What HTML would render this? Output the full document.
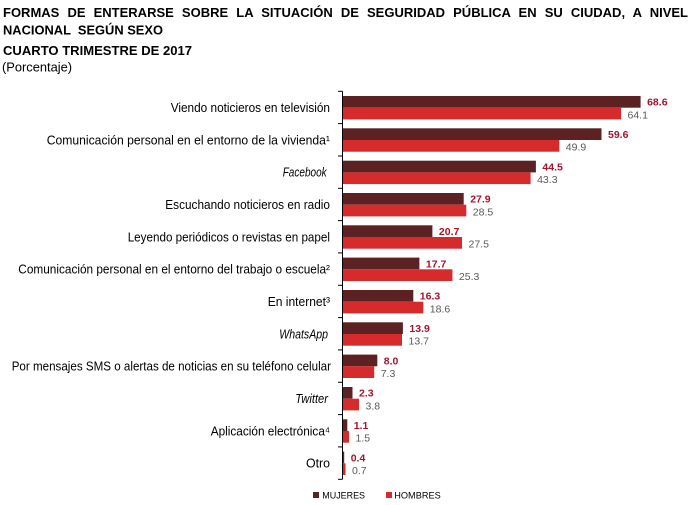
<!DOCTYPE html>
<html>
<head>
<meta charset="utf-8">
<style>
html,body{margin:0;padding:0;background:#fff;}
body{width:698px;height:505px;position:relative;overflow:hidden;font-family:"Liberation Sans",Arial,sans-serif;}
#t1{position:absolute;left:3px;top:5px;width:685px;font-weight:bold;font-size:13px;line-height:15px;text-align:justify;text-align-last:justify;color:#000;white-space:nowrap;}
svg{position:absolute;left:0;top:0;}
</style>
</head>
<body>
<div id="t1">FORMAS DE ENTERARSE SOBRE LA SITUACIÓN DE SEGURIDAD PÚBLICA EN SU CIUDAD, A NIVEL</div>
<svg width="698" height="505" viewBox="0 0 698 505" xmlns="http://www.w3.org/2000/svg" font-family="Liberation Sans, Arial, sans-serif">
  <text x="3" y="34.5" font-size="13" font-weight="bold" fill="#000" textLength="160" lengthAdjust="spacingAndGlyphs" style="white-space:pre">NACIONAL  SEGÚN SEXO</text>
  <text x="3" y="55" font-size="13" font-weight="bold" fill="#000" textLength="189" lengthAdjust="spacingAndGlyphs">CUARTO TRIMESTRE DE 2017</text>
  <text x="2" y="71.5" font-size="13" fill="#000" textLength="70" lengthAdjust="spacingAndGlyphs">(Porcentaje)</text>

  <!-- category labels -->
  <g font-size="12.5" fill="#000">
    <text x="170.7" y="112.0" textLength="159.3" lengthAdjust="spacingAndGlyphs">Viendo noticieros en televisión</text>
    <text x="46.7" y="144.3" textLength="283.3" lengthAdjust="spacingAndGlyphs">Comunicación personal en el entorno de la vivienda¹</text>
    <text x="282.7" y="176.7" textLength="44" lengthAdjust="spacingAndGlyphs" font-style="italic">Facebook</text>
    <text x="165.3" y="209.0" textLength="164.7" lengthAdjust="spacingAndGlyphs">Escuchando noticieros en radio</text>
    <text x="127.7" y="241.3" textLength="202.3" lengthAdjust="spacingAndGlyphs">Leyendo periódicos o revistas en papel</text>
    <text x="18.3" y="273.6" textLength="311.7" lengthAdjust="spacingAndGlyphs">Comunicación personal en el entorno del trabajo o escuela²</text>
    <text x="267.7" y="306.0" textLength="62.3" lengthAdjust="spacingAndGlyphs">En internet³</text>
    <text x="279.3" y="338.3" textLength="48.7" lengthAdjust="spacingAndGlyphs" font-style="italic">WhatsApp</text>
    <text x="11.7" y="370.6" textLength="319.3" lengthAdjust="spacingAndGlyphs">Por mensajes SMS o alertas de noticias en su teléfono celular</text>
    <text x="295.3" y="403.0" textLength="32.7" lengthAdjust="spacingAndGlyphs" font-style="italic">Twitter</text>
    <text x="210.7" y="435.3" textLength="119.3" lengthAdjust="spacingAndGlyphs">Aplicación electrónica⁴</text>
    <text x="306" y="467.6" textLength="24" lengthAdjust="spacingAndGlyphs">Otro</text>
  </g>

  <!-- bars mujeres -->
  <g fill="#5c2223">
    <rect x="342.5" y="96.0" width="298.1" height="11.7"/>
    <rect x="342.5" y="128.3" width="259.0" height="11.7"/>
    <rect x="342.5" y="160.7" width="193.4" height="11.7"/>
    <rect x="342.5" y="193.0" width="121.2" height="11.7"/>
    <rect x="342.5" y="225.3" width="89.9" height="11.7"/>
    <rect x="342.5" y="257.6" width="76.9" height="11.7"/>
    <rect x="342.5" y="290.0" width="70.8" height="11.7"/>
    <rect x="342.5" y="322.3" width="60.4" height="11.7"/>
    <rect x="342.5" y="354.6" width="34.8" height="11.7"/>
    <rect x="342.5" y="387.0" width="10.0" height="11.7"/>
    <rect x="342.5" y="419.3" width="4.8" height="11.7"/>
    <rect x="342.5" y="451.6" width="1.7" height="11.7"/>
  </g>
  <!-- bars hombres -->
  <g fill="#d52b2d">
    <rect x="342.5" y="107.7" width="278.5" height="11.7"/>
    <rect x="342.5" y="140.0" width="216.8" height="11.7"/>
    <rect x="342.5" y="172.4" width="188.1" height="11.7"/>
    <rect x="342.5" y="204.7" width="123.8" height="11.7"/>
    <rect x="342.5" y="237.0" width="119.5" height="11.7"/>
    <rect x="342.5" y="269.3" width="109.9" height="11.7"/>
    <rect x="342.5" y="301.7" width="80.8" height="11.7"/>
    <rect x="342.5" y="334.0" width="59.5" height="11.7"/>
    <rect x="342.5" y="366.3" width="31.7" height="11.7"/>
    <rect x="342.5" y="398.7" width="16.5" height="11.7"/>
    <rect x="342.5" y="431.0" width="6.5" height="11.7"/>
    <rect x="342.5" y="463.3" width="3.0" height="11.7"/>
  </g>

  <!-- axis -->
  <g stroke="#000" stroke-width="1">
    <line x1="342.5" y1="91.3" x2="342.5" y2="479.3"/>
    <line x1="338" y1="91.3" x2="342.5" y2="91.3"/>
    <line x1="338" y1="123.6" x2="342.5" y2="123.6"/>
    <line x1="338" y1="156.0" x2="342.5" y2="156.0"/>
    <line x1="338" y1="188.3" x2="342.5" y2="188.3"/>
    <line x1="338" y1="220.6" x2="342.5" y2="220.6"/>
    <line x1="338" y1="252.9" x2="342.5" y2="252.9"/>
    <line x1="338" y1="285.3" x2="342.5" y2="285.3"/>
    <line x1="338" y1="317.6" x2="342.5" y2="317.6"/>
    <line x1="338" y1="349.9" x2="342.5" y2="349.9"/>
    <line x1="338" y1="382.3" x2="342.5" y2="382.3"/>
    <line x1="338" y1="414.6" x2="342.5" y2="414.6"/>
    <line x1="338" y1="446.9" x2="342.5" y2="446.9"/>
    <line x1="338" y1="479.3" x2="342.5" y2="479.3"/>
  </g>

  <!-- value labels mujeres -->
  <g font-size="10.5" font-weight="bold" fill="#a3142f">
    <text x="647.1" y="105.7">68.6</text>
    <text x="608.0" y="138.0">59.6</text>
    <text x="542.4" y="170.4">44.5</text>
    <text x="470.2" y="202.7">27.9</text>
    <text x="438.9" y="235.0">20.7</text>
    <text x="425.9" y="267.3">17.7</text>
    <text x="419.8" y="299.7">16.3</text>
    <text x="409.4" y="332.0">13.9</text>
    <text x="383.8" y="364.3">8.0</text>
    <text x="359.0" y="396.7">2.3</text>
    <text x="353.8" y="429.0">1.1</text>
    <text x="350.7" y="461.3">0.4</text>
  </g>
  <!-- value labels hombres -->
  <g font-size="10.5" fill="#595959">
    <text x="627.5" y="118.3">64.1</text>
    <text x="565.8" y="150.6">49.9</text>
    <text x="537.1" y="183.0">43.3</text>
    <text x="472.8" y="215.3">28.5</text>
    <text x="468.5" y="247.6">27.5</text>
    <text x="458.9" y="279.9">25.3</text>
    <text x="429.8" y="312.3">18.6</text>
    <text x="408.5" y="344.6">13.7</text>
    <text x="380.7" y="376.9">7.3</text>
    <text x="365.5" y="409.3">3.8</text>
    <text x="355.5" y="441.6">1.5</text>
    <text x="352.0" y="473.9">0.7</text>
  </g>

  <!-- legend -->
  <rect x="313" y="492" width="6" height="6" fill="#5c2223"/>
  <text x="322.3" y="498.3" font-size="9.5" fill="#000" textLength="42.7" lengthAdjust="spacingAndGlyphs">MUJERES</text>
  <rect x="386" y="492" width="6" height="6" fill="#d52b2d"/>
  <text x="394.3" y="498.3" font-size="9.5" fill="#000" textLength="46.4" lengthAdjust="spacingAndGlyphs">HOMBRES</text>
</svg>
</body>
</html>
